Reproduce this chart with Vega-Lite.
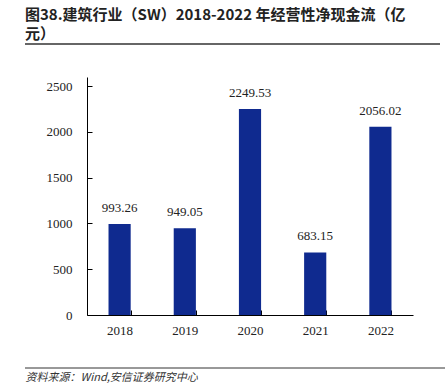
{
  "$schema": "https://vega.github.io/schema/vega-lite/v6.json",
  "autosize": "none",
  "width": 326,
  "height": 238,
  "padding": {"left": 87, "top": 77, "right": 32, "bottom": 70},
  "background": "white",
  "config": {"view": {"stroke": null}},
  "title": {
    "text": ["图38.建筑行业（SW）2018-2022 年经营性净现金流（亿", "元）"],
    "anchor": "start",
    "frame": "group",
    "dx": -62,
    "offset": 1,
    "font": "Noto Sans CJK SC",
    "fontSize": 15,
    "fontWeight": "bold",
    "lineHeight": 19,
    "color": "#222222"
  },
  "data": {
    "values": [
      {"year": "2018", "value": 993.26},
      {"year": "2019", "value": 949.05},
      {"year": "2020", "value": 2249.53},
      {"year": "2021", "value": 683.15},
      {"year": "2022", "value": 2056.02}
    ]
  },
  "layer": [
    {
      "mark": {"type": "bar", "color": "#0F2A8F"},
      "encoding": {
        "x": {
          "field": "year",
          "type": "ordinal",
          "scale": {"paddingInner": 0.66, "paddingOuter": 0.33},
          "axis": {
            "title": "资料来源：Wind,安信证券研究中心",
            "titleFont": "Noto Sans CJK SC",
            "titleFontStyle": "italic",
            "titleFontWeight": "normal",
            "titleFontSize": 11,
            "titleColor": "#333333",
            "titleAnchor": "start",
            "titleAlign": "left",
            "titleBaseline": "middle",
            "titleX": -62,
            "titleY": 62,
            "labelAngle": 0,
            "labelFont": "Liberation Serif",
            "labelFontSize": 13,
            "labelColor": "#222222",
            "labelPadding": 14,
            "tickBand": "extent",
            "tickSize": -5,
            "tickColor": "#000000",
            "domainColor": "#000000",
            "grid": false
          }
        },
        "y": {
          "field": "value",
          "type": "quantitative",
          "scale": {"domain": [0, 2500]},
          "axis": {
            "title": null,
            "values": [0, 500, 1000, 1500, 2000, 2500],
            "format": "d",
            "labelFont": "Liberation Serif",
            "labelFontSize": 13,
            "labelColor": "#222222",
            "labelPadding": 20,
            "tickSize": -5,
            "tickColor": "#000000",
            "domainColor": "#000000",
            "grid": false
          }
        }
      }
    },
    {
      "mark": {"type": "text", "baseline": "bottom", "dy": -9, "font": "Liberation Serif", "fontSize": 13, "color": "#222222"},
      "encoding": {
        "x": {"field": "year", "type": "ordinal"},
        "y": {"field": "value", "type": "quantitative"},
        "text": {"field": "value", "type": "quantitative", "format": ".2f"}
      }
    },
    {
      "data": {"values": [{"pos": "top"}]},
      "mark": {"type": "rule", "color": "#333333", "strokeWidth": 1.5, "clip": false},
      "encoding": {"x": {"value": -62}, "x2": {"value": 353}, "y": {"value": -33}}
    },
    {
      "data": {"values": [{"pos": "bottom"}]},
      "mark": {"type": "rule", "color": "#333333", "strokeWidth": 1, "clip": false},
      "encoding": {"x": {"value": -62}, "x2": {"value": 358}, "y": {"value": 291}}
    }
  ]
}
